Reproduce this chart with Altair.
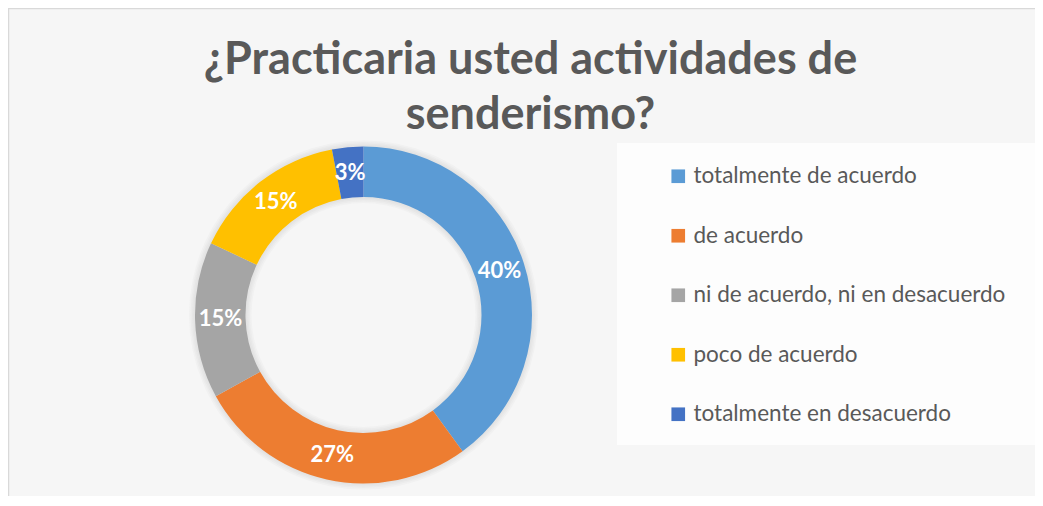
import altair as alt
import pandas as pd

# ---- data ----
categories = [
    "totalmente de acuerdo",
    "de acuerdo",
    "ni de acuerdo, ni en desacuerdo",
    "poco de acuerdo",
    "totalmente en desacuerdo",
]
values = [40, 27, 15, 15, 3]
pct_labels = ["40%", "27%", "15%", "15%", "3%"]
colors = ["#5B9BD5", "#ED7D31", "#A5A5A5", "#FFC000", "#4472C4"]
title_lines = ["¿Practicaria usted actividades de", "senderismo?"]

df = pd.DataFrame({
    "cat": categories,
    "value": values,
    "label": pct_labels,
    "idx": list(range(len(categories))),
})

W, H = 1027, 488
CX, CY = 355.5, 307
R_OUT, R_IN, R_LAB = 168.5, 118, 143
FONT = "Lato"
TXT = "#595959"

one = alt.Data(values=[{"a": 1}])

border_top = alt.Chart(one).mark_rule(color="#d9d9d9", strokeWidth=1.5).encode(
    x=alt.value(0), x2=alt.value(W), y=alt.value(0.5))
border_left = alt.Chart(one).mark_rule(color="#d9d9d9", strokeWidth=1.5).encode(
    x=alt.value(0.5), y=alt.value(0), y2=alt.value(H))

legend_box = alt.Chart(one).mark_rect(color="#fdfdfd").encode(
    x=alt.value(609), x2=alt.value(W), y=alt.value(135), y2=alt.value(437))

shadows = []
for k in range(1, 5):
    shadows.append(
        alt.Chart(one).mark_arc(
            theta=0, theta2=6.2832,
            radius=R_OUT + 1.5 * k, radius2=R_IN - 1.5 * k,
            color="#808080", opacity=0.045,
        ).encode(x=alt.value(CX), y=alt.value(CY))
    )

base = alt.Chart(df).encode(
    theta=alt.Theta("value:Q", stack=True),
    order=alt.Order("idx:Q", sort="ascending"),
    x=alt.value(CX),
    y=alt.value(CY),
)

ring = base.mark_arc(radius=R_OUT, radius2=R_IN).encode(
    color=alt.Color(
        "cat:N",
        sort=categories,
        scale=alt.Scale(domain=categories, range=colors),
        legend=alt.Legend(
            title=None,
            orient="none",
            legendX=659,
            legendY=157,
            direction="vertical",
            symbolType="square",
            symbolSize=186,
            symbolStrokeWidth=0,
            labelFont=FONT,
            labelFontSize=22.5,
            labelColor=TXT,
            labelOffset=4,
            rowPadding=36.5,
            padding=0,
            labelLimit=400,
        ),
    )
)

labels = base.mark_text(
    radius=R_LAB, font=FONT, fontWeight="bold", fontSize=22, color="white"
).encode(text="label:N")

chart = alt.layer(
    border_top, border_left, legend_box, *shadows, ring, labels
).properties(
    width=W,
    height=H,
    autosize=alt.AutoSizeParams(type="none"),
    padding=0,
    background="#f6f6f6",
    title=alt.TitleParams(
        text=title_lines,
        font=FONT,
        fontSize=45,
        fontWeight="bold",
        color=TXT,
        anchor="middle",
        frame="group",
        offset=0,
        dx=9,
        dy=131,
        lineHeight=55,
    ),
).configure_view(stroke=None)

chart.save("out.html", embed_options={"renderer": "svg", "actions": False})
